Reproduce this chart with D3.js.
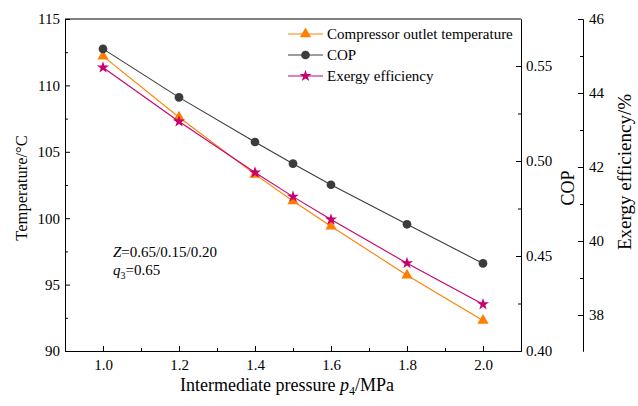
<!DOCTYPE html>
<html lang="en">
<head>
  <meta charset="UTF-8">
  <title>Intermediate pressure chart</title>
  <script src="https://d3js.org/d3.v7.min.js"></script>
  <style>
    body { margin: 0; background: #fff; }
    svg text { font-family: "Liberation Serif", "Times New Roman", serif !important; }
    .axis path, .axis line { stroke: #000; }
  </style>
</head>
<body>
  <div id="chart"></div>
  <script>
    const pressure = [1.0, 1.2, 1.4, 1.5, 1.6, 1.8, 2.0];
    const outletTemp = [112.2, 107.6, 103.3, 101.3, 99.4, 95.7, 92.3];
    const cop = [0.559, 0.5335, 0.510, 0.4986, 0.4875, 0.4667, 0.4461];
    const exergy = [44.69, 43.23, 41.85, 41.2, 40.58, 39.4, 38.29];
    const xTicks = [1.0, 1.2, 1.4, 1.6, 1.8, 2.0];
    const tempTicks = [90, 95, 100, 105, 110, 115];
    const copTicks = [0.40, 0.45, 0.50, 0.55];
    const exTicks = [38, 40, 42, 44, 46];

    const width = 638, height = 406;
    const margin = { top: 19, right: 117, bottom: 55, left: 65 };
    const plotR = width - margin.right, plotB = height - margin.bottom;

    const svg = d3.select("#chart").append("svg").attr("width", width).attr("height", height);

    const x = d3.scaleLinear().domain([0.9, 2.1]).range([margin.left, plotR]);
    const yT = d3.scaleLinear().domain([90, 115]).range([plotB, margin.top]);
    const yC = d3.scaleLinear().domain([0.40, 0.40 + (plotB - margin.top) / 1900]).range([plotB, margin.top]);
    const yE = d3.scaleLinear().domain([46 - (plotB - margin.top) / 37, 46]).range([plotB, margin.top]);

    const colors = { temp: "#ff8000", cop: "#3c3c3c", ex: "#c8006e" };

    function styleAxis(g) {
      g.attr("font-size", 15);
      g.selectAll("text").attr("fill", "#000").style("font-size", "15px");
    }

    // frame top
    svg.append("line").attr("x1", margin.left).attr("x2", plotR).attr("y1", margin.top).attr("y2", margin.top).attr("stroke", "#000");

    // minor ticks
    const minor = (axis, vals) => axis.tickValues(vals).tickSizeInner(-3).tickSizeOuter(0).tickFormat("");
    svg.append("g").attr("class", "axis").attr("transform", `translate(0,${plotB})`)
      .call(minor(d3.axisBottom(x), [1.1, 1.3, 1.5, 1.7, 1.9]));
    svg.append("g").attr("class", "axis").attr("transform", `translate(${margin.left},0)`)
      .call(minor(d3.axisLeft(yT), [92.5, 97.5, 102.5, 107.5, 112.5]));
    svg.append("g").attr("class", "axis").attr("transform", `translate(${plotR},0)`)
      .call(minor(d3.axisRight(yC), [0.425, 0.475, 0.525]));
    svg.append("g").attr("class", "axis").attr("transform", `translate(583,0)`)
      .call(minor(d3.axisRight(yE), [39, 41, 43, 45]));

    // main axes
    svg.append("g").attr("class", "axis").attr("transform", `translate(0,${plotB})`)
      .call(d3.axisBottom(x).tickValues(xTicks).tickFormat(d3.format(".1f")).tickSizeInner(-5).tickSizeOuter(0).tickPadding(8))
      .call(styleAxis);
    svg.append("g").attr("class", "axis").attr("transform", `translate(${margin.left},0)`)
      .call(d3.axisLeft(yT).tickValues(tempTicks).tickSizeInner(-5).tickSizeOuter(0).tickPadding(5))
      .call(styleAxis);
    svg.append("g").attr("class", "axis").attr("transform", `translate(${plotR},0)`)
      .call(d3.axisRight(yC).tickValues(copTicks).tickFormat(d3.format(".2f")).tickSizeInner(-5).tickSizeOuter(0).tickPadding(5))
      .call(styleAxis);
    svg.append("g").attr("class", "axis").attr("transform", `translate(583,0)`)
      .call(d3.axisRight(yE).tickValues(exTicks).tickSizeInner(-5).tickSizeOuter(0).tickPadding(6))
      .call(styleAxis);

    // axis titles
    const xt = svg.append("text").attr("x", 287).attr("y", 391)
      .attr("text-anchor", "middle").attr("font-size", 18);
    xt.append("tspan").text("Intermediate pressure ");
    xt.append("tspan").attr("font-style", "italic").text("p");
    xt.append("tspan").attr("font-size", 12).attr("dy", 4).text("4");
    xt.append("tspan").attr("dy", -4).text("/MPa");

    svg.append("text").attr("transform", `translate(27,188) rotate(-90)`)
      .attr("text-anchor", "middle").attr("font-size", 16.5).text("Temperature/°C");
    svg.append("text").attr("transform", `translate(574,188) rotate(-90)`)
      .attr("text-anchor", "middle").attr("font-size", 18).text("COP");
    svg.append("text").attr("transform", `translate(631,172) rotate(-90)`)
      .attr("text-anchor", "middle").attr("font-size", 19).text("Exergy efficiency/%");

    // markers
    const tri = d3.symbol().type(d3.symbolTriangle).size(55);
    const circ = d3.symbol().type(d3.symbolCircle).size(60);
    const star = d3.symbol().type(d3.symbolStar).size(45);

    const series = [
      { key: "temp", vals: outletTemp, y: yT, sym: tri, label: "Compressor outlet temperature" },
      { key: "ex", vals: exergy, y: yE, sym: star, label: "Exergy efficiency" },
      { key: "cop", vals: cop, y: yC, sym: circ, label: "COP" }
    ];

    series.forEach(s => {
      const pts = pressure.map((p, i) => [x(p), s.y(s.vals[i])]);
      svg.append("path").attr("d", d3.line()(pts)).attr("fill", "none")
        .attr("stroke", colors[s.key]).attr("stroke-width", 1.1);
      svg.append("g").selectAll("path").data(pts).join("path")
        .attr("transform", d => `translate(${d[0]},${d[1]})`)
        .attr("d", s.sym).attr("fill", colors[s.key]);
    });

    // legend
    const legendItems = [series[0], series[2], series[1]];
    const lg = svg.append("g").attr("transform", "translate(288,34)");
    legendItems.forEach((s, i) => {
      const g = lg.append("g").attr("transform", `translate(0,${i * 21})`);
      g.append("line").attr("x1", 0).attr("x2", 35).attr("stroke", colors[s.key]).attr("stroke-width", 1.1);
      g.append("path").attr("transform", "translate(17.5,0)").attr("d", s.sym).attr("fill", colors[s.key]);
      g.append("text").attr("x", 39).attr("y", 5).attr("font-size", 15).text(s.label);
    });

    // annotation
    const a1 = svg.append("text").attr("x", 113).attr("y", 257).attr("font-size", 15);
    a1.append("tspan").attr("font-style", "italic").text("Z");
    a1.append("tspan").text("=0.65/0.15/0.20");
    const a2 = svg.append("text").attr("x", 113).attr("y", 275).attr("font-size", 15);
    a2.append("tspan").attr("font-style", "italic").text("q");
    a2.append("tspan").attr("font-size", 10).attr("dy", 4).text("3");
    a2.append("tspan").attr("dy", -4).text("=0.65");
  </script>
</body>
</html>
